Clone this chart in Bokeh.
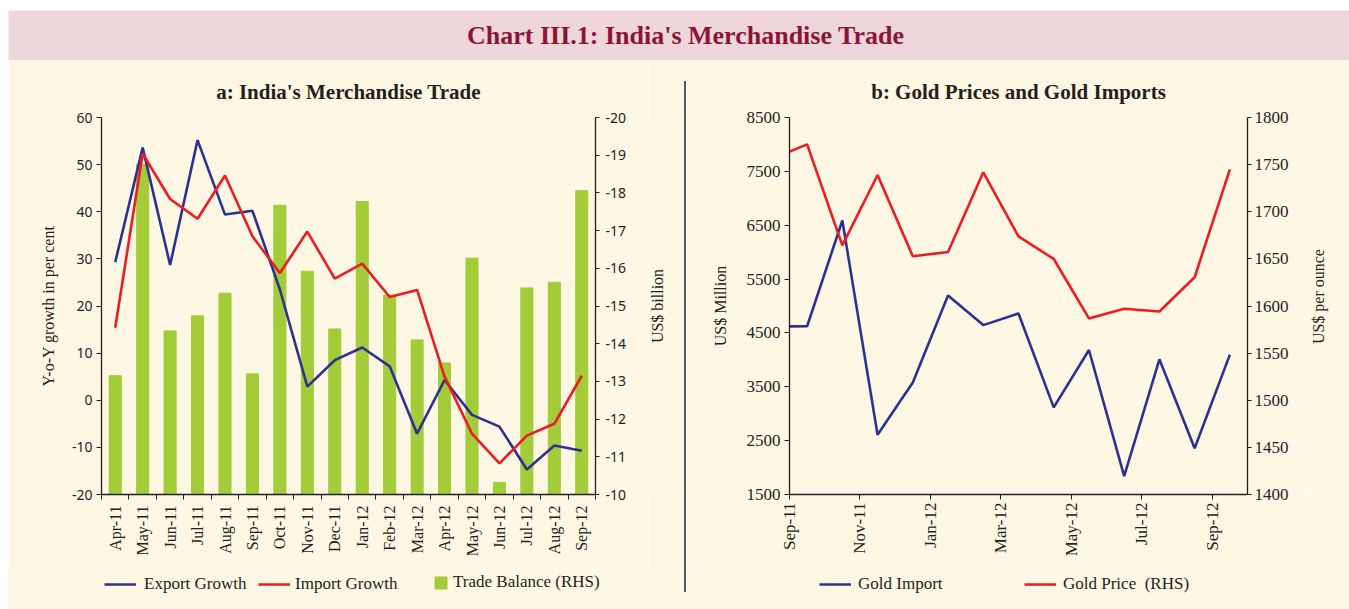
import math
import numpy as np
from bokeh.plotting import figure
from bokeh.models import (Range1d, LinearAxis, FixedTicker, Legend, LegendItem,
                          Label, Spacer)
from bokeh.layouts import row, column
from bokeh.embed import file_html
from bokeh.resources import INLINE

# ---------------- data ----------------
months_a = ["Apr-11", "May-11", "Jun-11", "Jul-11", "Aug-11", "Sep-11", "Oct-11",
            "Nov-11", "Dec-11", "Jan-12", "Feb-12", "Mar-12", "Apr-12", "May-12",
            "Jun-12", "Jul-12", "Aug-12", "Sep-12"]
export_growth = [29.3, 53.6, 28.7, 55.2, 39.4, 40.2, 23.5, 2.9, 8.5, 11.2, 7.2,
                 -7.1, 4.3, -3.1, -5.6, -14.7, -9.6, -10.7]
import_growth = [15.4, 52.3, 42.7, 38.5, 47.7, 34.8, 27.0, 35.8, 25.8, 29.0, 21.9,
                 23.4, 5.0, -7.1, -13.4, -7.5, -5.0, 5.2]
trade_balance = [-13.15, -18.76, -14.34, -14.74, -15.34, -13.2, -17.67, -15.92,
                 -14.39, -17.77, -15.29, -14.10, -13.49, -16.27, -10.32, -15.48,
                 -15.63, -18.06]
left_ticks_a = [-20, -10, 0, 10, 20, 30, 40, 50, 60]
right_ticks_a = [-20, -19, -18, -17, -16, -15, -14, -13, -12, -11, -10]

months_b = ["Aug-11", "Sep-11", "Oct-11", "Nov-11", "Dec-11", "Jan-12", "Feb-12",
            "Mar-12", "Apr-12", "May-12", "Jun-12", "Jul-12", "Aug-12", "Sep-12"]
gold_import = [4620, 4624, 6587, 2610, 3580, 5194, 4645, 4861, 3117, 4183, 1841,
               4010, 2359, 4097]
gold_price = [1756, 1771.5, 1664.3, 1739, 1652.7, 1657.3, 1741.9, 1673.8, 1649.9,
              1586.8, 1597, 1594.2, 1630.5, 1745]
tick_labels_b = ["Sep-11", "Nov-11", "Jan-12", "Mar-12", "May-12", "Jul-12", "Sep-12"]
left_ticks_b = [1500, 2500, 3500, 4500, 5500, 6500, 7500, 8500]
right_ticks_b = [1400, 1450, 1500, 1550, 1600, 1650, 1700, 1750, 1800]

# ---------------- style ----------------
CREAM = "#FEF7E3"
PINK = "#EFD6DA"
BLUE = "#2E3192"
RED = "#ED1C24"
GREEN = "#A3CC39"
INK = "#231F20"
RULE = "#5A5A5A"
SERIF = "Liberation Serif"
SANS = "Noto Sans"
LW = 2.6
NAN = [float("nan")]
CH = 509   # chart row height
LH = 40    # legend row height


def style_axis(ax, font, size):
    ax.axis_line_color = INK
    ax.axis_line_width = 1.3
    ax.major_tick_line_color = INK
    ax.minor_tick_line_color = INK
    ax.major_label_text_color = INK
    ax.major_label_text_font = font
    ax.major_label_text_font_size = size
    ax.axis_label_text_font = SERIF
    ax.axis_label_text_font_size = "16px"
    ax.axis_label_text_font_style = "normal"
    ax.axis_label_text_color = INK
    ax.major_tick_in = 0
    ax.minor_tick_in = 0


def plain_fig(width, height, xr, yr, bl, br, bt, bb, bg, border):
    p = figure(width=width, height=height, x_range=xr, y_range=yr,
               output_backend="svg", toolbar_location=None,
               min_border_left=bl, min_border_right=br, min_border_top=bt,
               min_border_bottom=bb, background_fill_color=bg,
               border_fill_color=border, outline_line_color=None)
    p.xgrid.visible = False
    p.ygrid.visible = False
    return p


def style_title(p, text):
    p.title.text = text
    p.title.align = "center"
    p.title.text_font = SERIF
    p.title.text_font_size = "21px"
    p.title.text_font_style = "bold"
    p.title.text_color = INK
    p.title.standoff = 28


def side_label(width, text, y):
    """narrow strip holding a rotated axis title that reads bottom-to-top"""
    s = plain_fig(width, CH, Range1d(0, width), Range1d(0, 1), 0, 0, 57,
                  CH - 57 - 378, CREAM, CREAM)
    s.axis.visible = False
    s.add_layout(Label(x=9, y=y, text=text, angle=math.pi / 2,
                       text_align="center", text_baseline="middle",
                       text_font=SERIF, text_font_size="16px", text_color=INK))
    return s


def rule(height, start, stop):
    return Spacer(width=2, height=height, styles={
        "background": f"linear-gradient(to bottom, {CREAM} {start}px, "
                      f"{RULE} {start}px, {RULE} {stop}px, {CREAM} {stop}px)"})


# ---------------- header ----------------
head = plain_fig(1349, 60, Range1d(0, 1), Range1d(0, 1), 8, 0, 10, 0, PINK, "white")
head.axis.visible = False
head.add_layout(Label(x=0.505, y=0.5, text="Chart III.1: India's Merchandise Trade",
                      text_align="center", text_baseline="middle",
                      text_font=SERIF, text_font_style="bold",
                      text_font_size="26px", text_color="#8B1538"))

# ---------------- chart a ----------------
xa = np.arange(len(months_a))
pa = plain_fig(640, CH, Range1d(-0.5, len(months_a) - 0.5), Range1d(-20, 60),
               93, 53, 56, CH - 56 - 378, CREAM, CREAM)
pa.extra_y_ranges = {"tb": Range1d(-10, -20)}
pa.vbar(x=xa, top=trade_balance, bottom=-10, width=0.44, color=GREEN,
        y_range_name="tb")
pa.line(xa, export_growth, color=BLUE, line_width=LW)
pa.line(xa, import_growth, color=RED, line_width=LW)
style_title(pa, "a: India's Merchandise Trade")

ya = pa.yaxis[0]
ya.ticker = FixedTicker(ticks=left_ticks_a)
ya.major_label_overrides = {t: str(t) for t in left_ticks_a}
ya.axis_label = "Y-o-Y growth in per cent"
style_axis(ya, SANS, "14px")
ya.major_tick_out = 5
ya.minor_tick_out = 0
ya.major_label_standoff = 4
ya.axis_label_standoff = 12

ra = LinearAxis(y_range_name="tb", ticker=FixedTicker(ticks=right_ticks_a))
ra.major_label_overrides = {t: str(t) for t in right_ticks_a}
style_axis(ra, SANS, "14px")
ra.major_tick_out = 4
ra.minor_tick_out = 0
ra.major_label_standoff = 6
pa.add_layout(ra, "right")

xa_ax = pa.xaxis[0]
xa_ax.ticker = FixedTicker(ticks=list(xa),
                           minor_ticks=[i - 0.5 for i in range(len(months_a) + 1)])
xa_ax.major_label_overrides = {int(i): m for i, m in zip(xa, months_a)}
style_axis(xa_ax, SERIF, "16px")
xa_ax.major_label_orientation = math.pi / 2
xa_ax.major_tick_out = 0
xa_ax.minor_tick_out = 5
xa_ax.major_label_standoff = 6

side_a = side_label(36, "US$ billion", 0.5)

# ---------------- chart b ----------------
xb = np.arange(-1, len(months_b) - 1) + 0.5
pb = plain_fig(623, CH, Range1d(0, 13), Range1d(1500, 8500), 103, 62, 57,
               CH - 57 - 378, CREAM, CREAM)
pb.extra_y_ranges = {"gp": Range1d(1400, 1800)}
pb.line(xb, gold_import, color=BLUE, line_width=LW)
pb.line(xb, gold_price, color=RED, line_width=LW, y_range_name="gp")
style_title(pb, "b: Gold Prices and Gold Imports")

yb = pb.yaxis[0]
yb.ticker = FixedTicker(ticks=left_ticks_b)
yb.axis_label = "US$ Million"
style_axis(yb, SERIF, "17px")
yb.major_tick_out = 5
yb.minor_tick_out = 0
yb.major_label_standoff = 4
yb.axis_label_standoff = 15

rb = LinearAxis(y_range_name="gp", ticker=FixedTicker(ticks=right_ticks_b))
style_axis(rb, SERIF, "17px")
rb.major_tick_out = 4
rb.minor_tick_out = 0
rb.major_label_standoff = 3
pb.add_layout(rb, "right")

xb_ax = pb.xaxis[0]
tick_pos_b = list(range(0, 13, 2))
xb_ax.ticker = FixedTicker(ticks=tick_pos_b)
xb_ax.major_label_overrides = {t: lab for t, lab in zip(tick_pos_b, tick_labels_b)}
style_axis(xb_ax, SERIF, "17px")
xb_ax.major_label_orientation = math.pi / 2
xb_ax.major_tick_out = 5
xb_ax.minor_tick_out = 0
xb_ax.major_label_standoff = 3

side_b = side_label(40, "US$ per ounce", 0.525)

# ---------------- legend row ----------------
lga = plain_fig(676, LH, Range1d(0, 676), Range1d(0, LH), 0, 0, 0, 0, CREAM, CREAM)
lgb = plain_fig(663, LH, Range1d(0, 663), Range1d(0, LH), 0, 0, 0, 0, CREAM, CREAM)
for f in (lga, lgb):
    f.axis.visible = False

# legend keys (no data points of their own)
k_exp = lga.line(x=NAN, y=NAN, color=BLUE, line_width=LW)
k_imp = lga.line(x=NAN, y=NAN, color=RED, line_width=LW)
k_tb = lga.vbar(x=NAN, top=NAN, bottom=NAN, width=1, color=GREEN)
k_gi = lgb.line(x=NAN, y=NAN, color=BLUE, line_width=LW)
k_gp = lgb.line(x=NAN, y=NAN, color=RED, line_width=LW)


def key(fig, label, rend, x, standoff, gw=32, gh=20, y=15):
    fig.add_layout(Legend(items=[LegendItem(label=label, renderers=[rend])],
                          location=(x, y), orientation="horizontal",
                          background_fill_alpha=0, border_line_alpha=0,
                          padding=0, margin=0, spacing=0,
                          glyph_width=gw, glyph_height=gh, label_standoff=standoff,
                          label_text_font=SERIF, label_text_font_size="17px",
                          label_text_color=INK, label_height=gh))


key(lga, "Export Growth", k_exp, 96, 8)
key(lga, "Import Growth", k_imp, 250, 5)
key(lga, "Trade Balance (RHS)", k_tb, 425, 5, gw=15, gh=15, y=17)
key(lgb, "Gold Import", k_gi, 133, 7)
key(lgb, "Gold Price  (RHS)", k_gp, 338, 7)

layout = column(
    head,
    row(Spacer(width=8, height=CH), pa, side_a, rule(CH, 21, CH), pb, side_b),
    row(Spacer(width=8, height=LH), lga, rule(LH, 0, 23), lgb),
)

with open("out.html", "w") as f:
    f.write(file_html(layout, INLINE))
